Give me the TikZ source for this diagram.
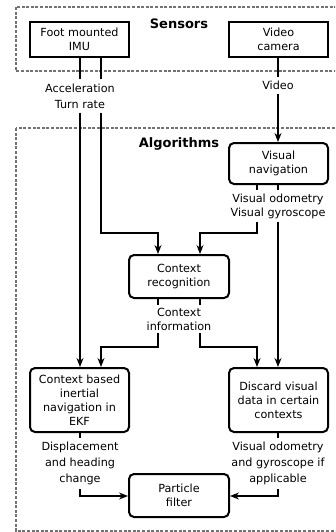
\documentclass[tikz,border=0pt]{standalone}
\usepackage{fontspec}
\setmainfont{DejaVu Sans}
\usetikzlibrary{arrows.meta,calc}
\begin{document}
\begin{tikzpicture}[x=1pt,y=-1pt,
  font=\fontsize{11.2}{14}\selectfont,
  sbox/.style={draw, line width=2pt, minimum width=99pt, minimum height=35pt, align=center, inner sep=0pt},
  rbox/.style={sbox, rounded corners=5pt},
  lbl/.style={align=center, inner xsep=0pt, inner ysep=3pt},
  conn/.style={line width=1.1pt},
  arr/.style={conn, -{Stealth[length=9pt,width=7pt]}},
  group/.style={draw=black!55, dash pattern=on 3pt off 1.6pt, line width=1.3pt},
  title/.style={font=\bfseries\fontsize{13}{15}\selectfont}]
\useasboundingbox (0,0) rectangle (335,532);
\begin{scope}
\clip (0,0) rectangle (335,532);
\draw[group] (16,7) rectangle (345,71);
\draw[group] (16,128) rectangle (345,531);
\end{scope}
\node[title] (sens) at (179,24) {Sensors};
\node[title] (algo) at (179,144) {Algorithms};
% boxes
\node[sbox] (imu) at (79.5,39.5) {Foot mounted\\IMU};
\node[sbox] (cam) at (278.5,39.5) {Video\\camera};
\node[rbox, minimum height=41pt] (vn) at (278.5,163.5) {Visual\\navigation};
\node[rbox, minimum width=100pt, minimum height=43pt] (cr) at (179,276.5) {Context\\recognition};
\node[rbox, minimum height=64pt] (cbi) at (79.5,400) {Context based\\inertial\\navigation in\\EKF};
\node[rbox, minimum height=64pt] (dvd) at (278.5,400) {Discard visual\\data in certain\\contexts};
\node[rbox, minimum width=100pt, minimum height=43pt] (pf) at (179,495.5) {Particle\\filter};
% labels
\node[lbl, font=\fontsize{11.2}{16}\selectfont, inner ysep=4pt] (accl) at (80,96) {Acceleration\\Turn rate};
\node[lbl, inner ysep=4pt] (vid) at (278,85.5) {Video};
\node[lbl] (vo) at (278,206) {Visual odometry\\Visual gyroscope};
\node[lbl] (ci) at (179,319) {Context\\information};
\node[lbl, font=\fontsize{11.2}{16}\selectfont, inner ysep=4pt] (disp) at (80,463.5) {Displacement\\and heading\\change};
\node[lbl, font=\fontsize{11.2}{16}\selectfont, inner ysep=4pt] (vog) at (278,463.5) {Visual odometry\\and gyroscope if\\applicable};
% columns
\coordinate (xa) at (80,0);
\coordinate (xb) at (101,0);
\coordinate (xc) at (158,0);
\coordinate (xd) at (200,0);
\coordinate (xe) at (257,0);
\coordinate (xf) at (278,0);
\coordinate (t1) at (158,233);
\coordinate (t2) at (200,233);
\coordinate (t3) at (101,347);
\coordinate (t4) at (257,347);
\coordinate (t5) at (80,496);
\coordinate (t6) at (278,496);
% connectors
\draw[conn] (imu.south -| xa) -- (accl.north -| xa);
\draw[conn] (imu.south -| xb) -- (accl.north -| xb);
\draw[conn] (cam.south -| xf) -- (vid.north -| xf);
\draw[arr] (vid.south -| xf) -- (vn.north -| xf);
\draw[arr] (accl.south -| xa) -- (cbi.north -| xa);
\draw[arr] (accl.south -| xb) |- (t1) -- (cr.north -| t1);
\draw[conn] (vn.south -| xe) -- (vo.north -| xe);
\draw[conn] (vn.south -| xf) -- (vo.north -| xf);
\draw[arr] (vo.south -| xe) |- (t2) -- (cr.north -| t2);
\draw[arr] (vo.south -| xf) -- (dvd.north -| xf);
\draw[conn] (cr.south -| xc) -- (ci.north -| xc);
\draw[conn] (cr.south -| xd) -- (ci.north -| xd);
\draw[arr] (ci.south -| xc) |- (t3) -- (cbi.north -| t3);
\draw[arr] (ci.south -| xd) |- (t4) -- (dvd.north -| t4);
\draw[conn] (cbi.south -| xa) -- (disp.north -| xa);
\draw[conn] (dvd.south -| xf) -- (vog.north -| xf);
\draw[arr] (disp.south -| xa) -- (t5) -- (pf.west |- t5);
\draw[arr] (vog.south -| xf) -- (t6) -- (pf.east |- t6);
\end{tikzpicture}
\end{document}
